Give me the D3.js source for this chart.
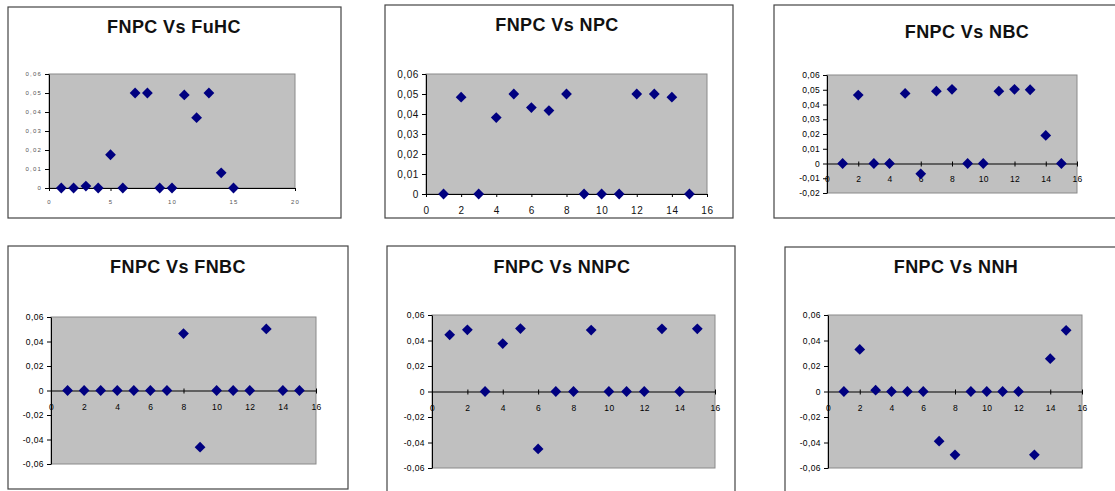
<!DOCTYPE html>
<html>
<head>
<meta charset="utf-8">
<script src="https://cdn.jsdelivr.net/npm/d3@7"></script>
<style>
  body { margin: 0; background: #fff; }
  svg { display: block; font-family: "Liberation Sans", Arial, sans-serif; }
</style>
</head>
<body>
<svg id="chart" width="1115" height="491"></svg>
<script>
// x values shared by every panel
const runs = [1, 2, 3, 4, 5, 6, 7, 8, 9, 10, 11, 12, 13, 14, 15];

// series values
const fuhc = [0, 0, 0.001, 0, 0.0175, 0, 0.05, 0.05, 0, 0, 0.049, 0.037, 0.05, 0.008, 0];
const npc  = [0, 0.0484, 0, 0.0382, 0.05, 0.0432, 0.0417, 0.05, 0, 0, 0, 0.05, 0.05, 0.0484, 0];
const nbc  = [0, 0.0464, 0, 0, 0.0475, -0.007, 0.049, 0.0503, 0, 0, 0.049, 0.0503, 0.05, 0.019, 0];
const fnbc = [0, 0, 0, 0, 0, 0, 0, 0.0465, -0.0463, 0, 0, 0, 0.0503, 0, 0];
const nnpc = [0.0445, 0.0484, 0, 0.0376, 0.0494, -0.045, 0, 0, 0.0482, 0, 0, 0, 0.0492, 0, 0.0492];
const nnh  = [0, 0.033, 0.001, 0, 0, 0, -0.039, -0.0497, 0, 0, 0, 0, -0.0497, 0.0257, 0.048];

const titles = ["FNPC Vs FuHC", "FNPC Vs NPC", "FNPC Vs NBC", "FNPC Vs FNBC", "FNPC Vs NNPC", "FNPC Vs NNH"];

// layout of each chart object (frame, plot area, title, axes)
const panels = [
  { title: titles[0], values: fuhc, frame: [8, 7, 333, 211], plot: [49, 74, 246, 114], tx: 174, ty: 33,
    yDom: [0, 0.06], yStep: 0.01, xDom: [0, 20], xStep: 5, font: 6, ls: 1.2, lab: "#555", lblOff: 14 },
  { title: titles[1], values: npc, frame: [385, 5, 348, 213], plot: [426, 74, 281, 120], tx: 557, ty: 31,
    yDom: [0, 0.06], yStep: 0.01, xDom: [0, 16], xStep: 2, font: 10, ls: 0.6, lab: "#111", lblOff: 16 },
  { title: titles[2], values: nbc, frame: [774, 5, 360, 213], plot: [827, 75, 250, 118], tx: 967, ty: 38,
    yDom: [-0.02, 0.06], yStep: 0.01, xDom: [0, 16], xStep: 2, font: 8.5, ls: 0.3, lab: "#000", lblOff: 16 },
  { title: titles[3], values: fnbc, frame: [8, 246, 340, 243], plot: [51, 317, 265, 147], tx: 178, ty: 273,
    yDom: [-0.06, 0.06], yStep: 0.02, xDom: [0, 16], xStep: 2, font: 8.5, ls: 0.4, lab: "#000", lblOff: 17 },
  { title: titles[4], values: nnpc, frame: [387, 246, 348, 260], plot: [432, 315, 283, 153], tx: 562, ty: 273,
    yDom: [-0.06, 0.06], yStep: 0.02, xDom: [0, 16], xStep: 2, font: 8.5, ls: 0.4, lab: "#000", lblOff: 17 },
  { title: titles[5], values: nnh, frame: [785, 247, 350, 260], plot: [828, 315, 254, 153], tx: 956, ty: 273,
    yDom: [-0.06, 0.06], yStep: 0.02, xDom: [0, 16], xStep: 2, font: 8.5, ls: 0.4, lab: "#000", lblOff: 17 }
];

const svg = d3.select("#chart");
const fmt = d => Math.abs(d) < 1e-9 ? "0" : d.toFixed(2).replace(".", ",");

panels.forEach(p => {
  const [fx, fy, fw, fh] = p.frame;
  const [px, py, pw, ph] = p.plot;

  // chart frame
  svg.append("rect")
      .attr("x", fx).attr("y", fy).attr("width", fw).attr("height", fh)
      .attr("fill", "#fff").attr("stroke", "#444").attr("stroke-width", 1.2);

  svg.append("text")
      .attr("x", p.tx).attr("y", p.ty)
      .attr("text-anchor", "middle")
      .attr("font-size", 18).attr("font-weight", "bold")
      .attr("letter-spacing", 0.4)
      .attr("fill", "#111")
      .text(p.title);

  // scales
  const x = d3.scaleLinear().domain(p.xDom).range([px, px + pw]);
  const y = d3.scaleLinear().domain(p.yDom).range([py + ph, py]);

  // plot area
  svg.append("rect")
      .attr("x", px).attr("y", py).attr("width", pw).attr("height", ph)
      .attr("fill", "#c0c0c0").attr("stroke", "#8a8a8a").attr("stroke-width", 1);

  const yTicks = d3.range(p.yDom[0], p.yDom[1] + p.yStep / 2, p.yStep);
  const xTicks = d3.range(p.xDom[0], p.xDom[1] + p.xStep / 2, p.xStep);

  // y axis
  const gy = svg.append("g")
      .attr("transform", `translate(${px},0)`)
      .call(d3.axisLeft(y).tickValues(yTicks).tickFormat(fmt).tickSizeInner(4).tickSizeOuter(0).tickPadding(3));
  gy.select(".domain").attr("stroke", "#000");
  gy.selectAll("text")
      .attr("font-size", p.font).attr("letter-spacing", p.ls).attr("fill", p.lab)
      .attr("font-family", "Liberation Sans, Arial, sans-serif");

  // x axis on the zero line
  const crosses = p.yDom[0] < 0;
  const gx = svg.append("g")
      .attr("transform", `translate(0,${y(0)})`)
      .call(d3.axisBottom(x).tickValues(xTicks).tickFormat(d3.format("d")).tickSizeInner(3).tickSizeOuter(0));
  gx.select(".domain").attr("stroke", "#000");
  if (crosses) gx.selectAll(".tick line").attr("y1", -2);
  gx.selectAll("text")
      .attr("y", p.lblOff).attr("dy", "0.35em")
      .attr("font-size", p.font).attr("letter-spacing", p.ls).attr("fill", p.lab)
      .attr("font-family", "Liberation Sans, Arial, sans-serif");

  // diamond markers
  svg.append("g")
    .selectAll("path")
    .data(runs.map((r, i) => ({ r, v: p.values[i] })))
    .join("path")
      .attr("d", d3.symbol(d3.symbolSquare, 58))
      .attr("transform", d => `translate(${x(d.r)},${y(d.v)}) rotate(45)`)
      .attr("fill", "#000080");
});
</script>
</body>
</html>
